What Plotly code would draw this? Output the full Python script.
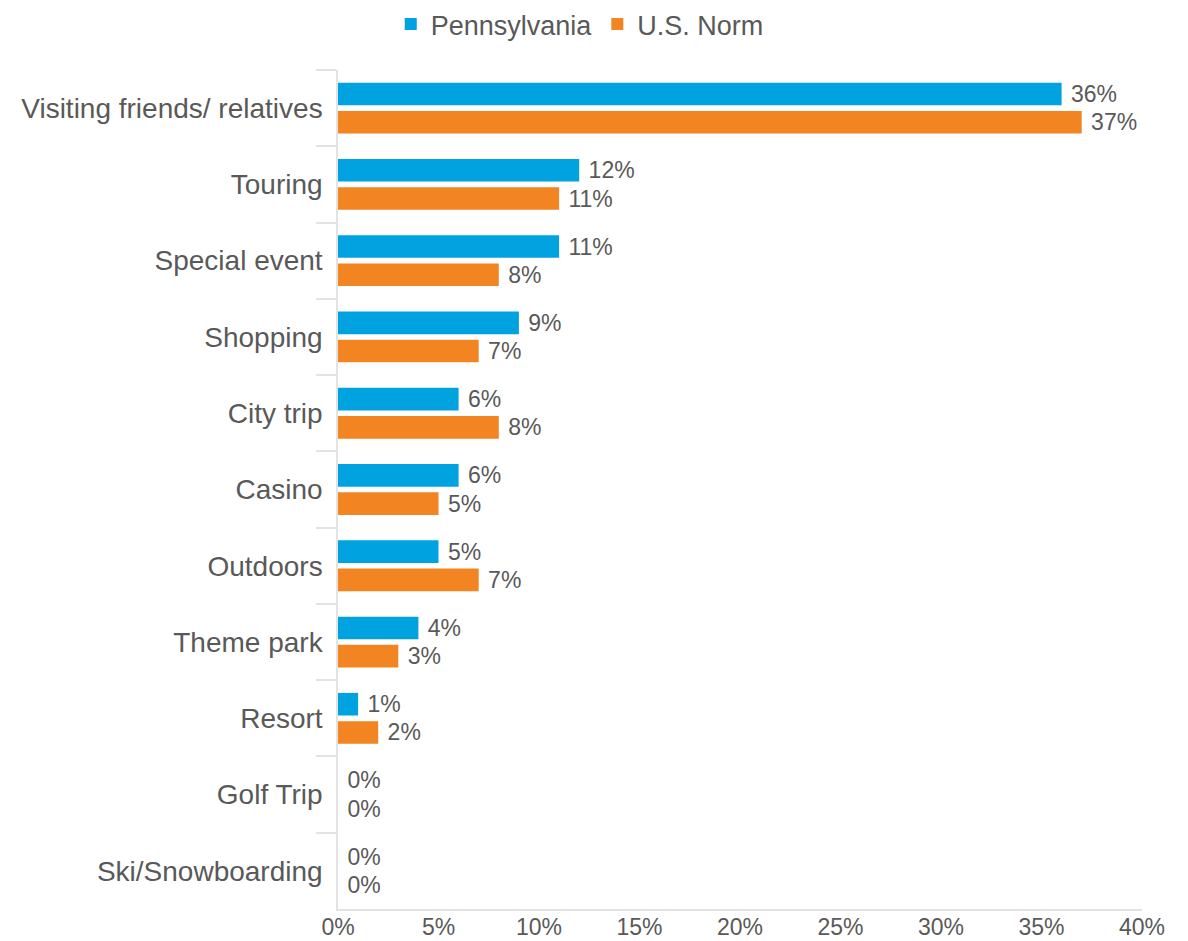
import plotly.graph_objects as go

categories = [
    "Visiting friends/ relatives", "Touring", "Special event", "Shopping",
    "City trip", "Casino", "Outdoors", "Theme park", "Resort",
    "Golf Trip", "Ski/Snowboarding",
]
pennsylvania = [36, 12, 11, 9, 6, 6, 5, 4, 1, 0, 0]
us_norm = [37, 11, 8, 7, 8, 5, 7, 3, 2, 0, 0]
x_ticks = [0, 5, 10, 15, 20, 25, 30, 35, 40]

BLUE = "#00A3E0"
ORANGE = "#F28521"
TEXT = "#595959"
GRID = "#E3E3E3"
FONT = "Liberation Sans, Arial, sans-serif"

fig = go.Figure()
for name, vals, color in [("Pennsylvania", pennsylvania, BLUE), ("U.S. Norm", us_norm, ORANGE)]:
    fig.add_trace(go.Bar(
        name=name, y=categories, x=vals, orientation="h",
        marker=dict(color=color, line=dict(width=0)),
        text=[f"\u00a0{v}%" for v in vals], textposition="outside",
        constraintext="none",
        textfont=dict(size=23, color=TEXT, family=FONT),
        cliponaxis=False,
    ))

fig.update_layout(
    width=1188, height=941,
    margin=dict(l=338, r=46, t=70, b=32, autoexpand=False),
    paper_bgcolor="white", plot_bgcolor="white",
    font=dict(family=FONT, color=TEXT),
    barmode="group", bargap=0.26, bargroupgap=0.2,
    legend=dict(
        orientation="h", x=0.488, xanchor="center", xref="container",
        y=1.0835, yanchor="top", yref="paper",
        font=dict(size=27, color=TEXT, family=FONT),
        traceorder="normal",
    ),
)

fig.update_xaxes(
    range=[0, 40], tickvals=x_ticks, ticktext=[f"{t}%" for t in x_ticks],
    showgrid=False, zeroline=False, showline=True, linecolor=GRID, linewidth=1.5,
    ticks="", automargin=False, ticklabelstandoff=-3,
    tickfont=dict(size=23, color=TEXT, family=FONT),
)
fig.update_yaxes(
    categoryorder="array", categoryarray=categories, autorange="reversed",
    showgrid=False, zeroline=False, showline=True, linecolor=GRID, linewidth=1.5,
    ticks="outside", tickson="boundaries", ticklen=20, tickcolor=GRID, tickwidth=1.5,
    ticklabelstandoff=8, automargin=False,
    tickfont=dict(size=28, color=TEXT, family=FONT),
)

fig.write_html("out.html")
